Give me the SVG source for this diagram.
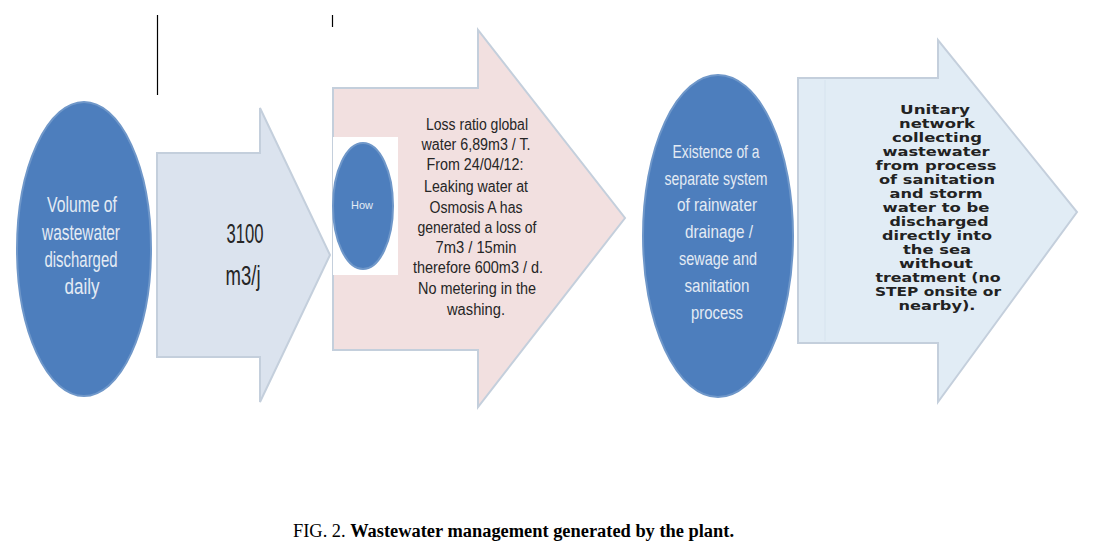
<svg xmlns="http://www.w3.org/2000/svg" width="1103" height="560" viewBox="0 0 1103 560">
<style>
.ell{fill:#4d7ebd;stroke:#6f97c9;stroke-width:2}
.arr{stroke:#c4cfdc;stroke-width:2;stroke-linejoin:miter}
.et{font-family:"Liberation Sans",Arial,sans-serif;fill:#e4ebf4;text-anchor:middle}
.at{font-family:"Liberation Sans",Arial,sans-serif;fill:#262626;text-anchor:middle}
.vt{font-family:"DejaVu Sans",Verdana,sans-serif;fill:#222;text-anchor:middle;font-size:12px;font-weight:bold}
.cap{font-family:"Liberation Serif","Times New Roman",serif;font-size:18.4px;fill:#000}
</style>
<rect width="1103" height="560" fill="#fff"/>
<g id="marks">
<line x1="157.5" y1="15" x2="157.5" y2="95" stroke="#000" stroke-width="1.2"/>
<line x1="332.5" y1="15" x2="332.5" y2="27" stroke="#000" stroke-width="1.2"/>
</g>
<g id="connectors">
<g id="arrow-3100">
<path class="arr" d="M157,153 H260 V108 L330,255 L260,402 V357 H157 Z" fill="#dbe3ee"/>
<text class="at" font-size="28" x="245" y="243" textLength="37" lengthAdjust="spacingAndGlyphs">3100</text>
<text class="at" font-size="28" x="243" y="285" textLength="35" lengthAdjust="spacingAndGlyphs">m3/j</text>
</g>
<g id="arrow-loss">
<path class="arr" d="M333,88 H478 V30 L625,218 L478,407 V350 H333 Z" fill="#f2e0e0"/>
<g font-size="16">
<text class="at" x="477" y="130" textLength="102" lengthAdjust="spacingAndGlyphs">Loss ratio global</text>
<text class="at" x="476" y="150" textLength="109" lengthAdjust="spacingAndGlyphs">water 6,89m3 / T.</text>
<text class="at" x="475" y="170" textLength="97" lengthAdjust="spacingAndGlyphs">From 24/04/12:</text>
<text class="at" x="476" y="192" textLength="104" lengthAdjust="spacingAndGlyphs">Leaking water at</text>
<text class="at" x="476" y="213" textLength="93" lengthAdjust="spacingAndGlyphs">Osmosis A has</text>
<text class="at" x="477" y="233" textLength="119" lengthAdjust="spacingAndGlyphs">generated a loss of</text>
<text class="at" x="476" y="253" textLength="81" lengthAdjust="spacingAndGlyphs">7m3 / 15min</text>
<text class="at" x="478" y="273" textLength="130" lengthAdjust="spacingAndGlyphs">therefore 600m3 / d.</text>
<text class="at" x="477" y="294" textLength="118" lengthAdjust="spacingAndGlyphs">No metering in the</text>
<text class="at" x="476" y="315" textLength="58" lengthAdjust="spacingAndGlyphs">washing.</text>
</g>
</g>
<g id="arrow-unitary">
<path class="arr" d="M798,78 H938 V40 L1077,212 L938,402 V343 H798 Z" fill="#e1ecf5"/>
<line x1="825" y1="80" x2="825" y2="341" stroke="#d6e3ee" stroke-width="1"/>
<text class="vt" x="935" y="114" textLength="70" lengthAdjust="spacingAndGlyphs">Unitary</text>
<text class="vt" x="937" y="128" textLength="76" lengthAdjust="spacingAndGlyphs">network</text>
<text class="vt" x="937" y="142" textLength="90" lengthAdjust="spacingAndGlyphs">collecting</text>
<text class="vt" x="936" y="156" textLength="107" lengthAdjust="spacingAndGlyphs">wastewater</text>
<text class="vt" x="936" y="170" textLength="121" lengthAdjust="spacingAndGlyphs">from process</text>
<text class="vt" x="937" y="184" textLength="116" lengthAdjust="spacingAndGlyphs">of sanitation</text>
<text class="vt" x="936" y="198" textLength="93" lengthAdjust="spacingAndGlyphs">and storm</text>
<text class="vt" x="936" y="212" textLength="107" lengthAdjust="spacingAndGlyphs">water to be</text>
<text class="vt" x="939" y="226" textLength="99" lengthAdjust="spacingAndGlyphs">discharged</text>
<text class="vt" x="937" y="240" textLength="110" lengthAdjust="spacingAndGlyphs">directly into</text>
<text class="vt" x="937" y="254" textLength="68" lengthAdjust="spacingAndGlyphs">the sea</text>
<text class="vt" x="936" y="268" textLength="74" lengthAdjust="spacingAndGlyphs">without</text>
<text class="vt" x="938" y="282" textLength="125" lengthAdjust="spacingAndGlyphs">treatment (no</text>
<text class="vt" x="938" y="296" textLength="126" lengthAdjust="spacingAndGlyphs">STEP onsite or</text>
<text class="vt" x="937" y="310" textLength="77" lengthAdjust="spacingAndGlyphs">nearby).</text>
</g>
</g>
<g id="node-volume">
<ellipse class="ell" cx="84" cy="249" rx="67" ry="147"/>
<g font-size="22">
<text class="et" x="82" y="212" textLength="70" lengthAdjust="spacingAndGlyphs">Volume of</text>
<text class="et" x="81" y="240" textLength="78" lengthAdjust="spacingAndGlyphs">wastewater</text>
<text class="et" x="81" y="267" textLength="73" lengthAdjust="spacingAndGlyphs">discharged</text>
<text class="et" x="82" y="294" textLength="35" lengthAdjust="spacingAndGlyphs">daily</text>
</g>
</g>
<g id="node-how">
<rect x="333" y="137" width="65" height="138" fill="#fff"/>
<ellipse class="ell" cx="363" cy="206" rx="30" ry="63"/>
<text class="et" x="362" y="209" font-size="11">How</text>
</g>
<g id="node-existence">
<ellipse class="ell" cx="718" cy="236" rx="75" ry="161"/>
<g font-size="19">
<text class="et" x="716" y="158" textLength="87" lengthAdjust="spacingAndGlyphs">Existence of a</text>
<text class="et" x="716" y="185" textLength="103" lengthAdjust="spacingAndGlyphs">separate system</text>
<text class="et" x="717" y="211" textLength="80" lengthAdjust="spacingAndGlyphs">of rainwater</text>
<text class="et" x="719" y="238" textLength="68" lengthAdjust="spacingAndGlyphs">drainage /</text>
<text class="et" x="718" y="265" textLength="78" lengthAdjust="spacingAndGlyphs">sewage and</text>
<text class="et" x="717" y="292" textLength="65" lengthAdjust="spacingAndGlyphs">sanitation</text>
<text class="et" x="717" y="319" textLength="52" lengthAdjust="spacingAndGlyphs">process</text>
</g>
</g>
<g id="caption">
<text class="cap" x="293" y="537">FIG. 2. <tspan font-weight="bold">Wastewater management generated by the plant.</tspan></text>
</g>
</svg>
